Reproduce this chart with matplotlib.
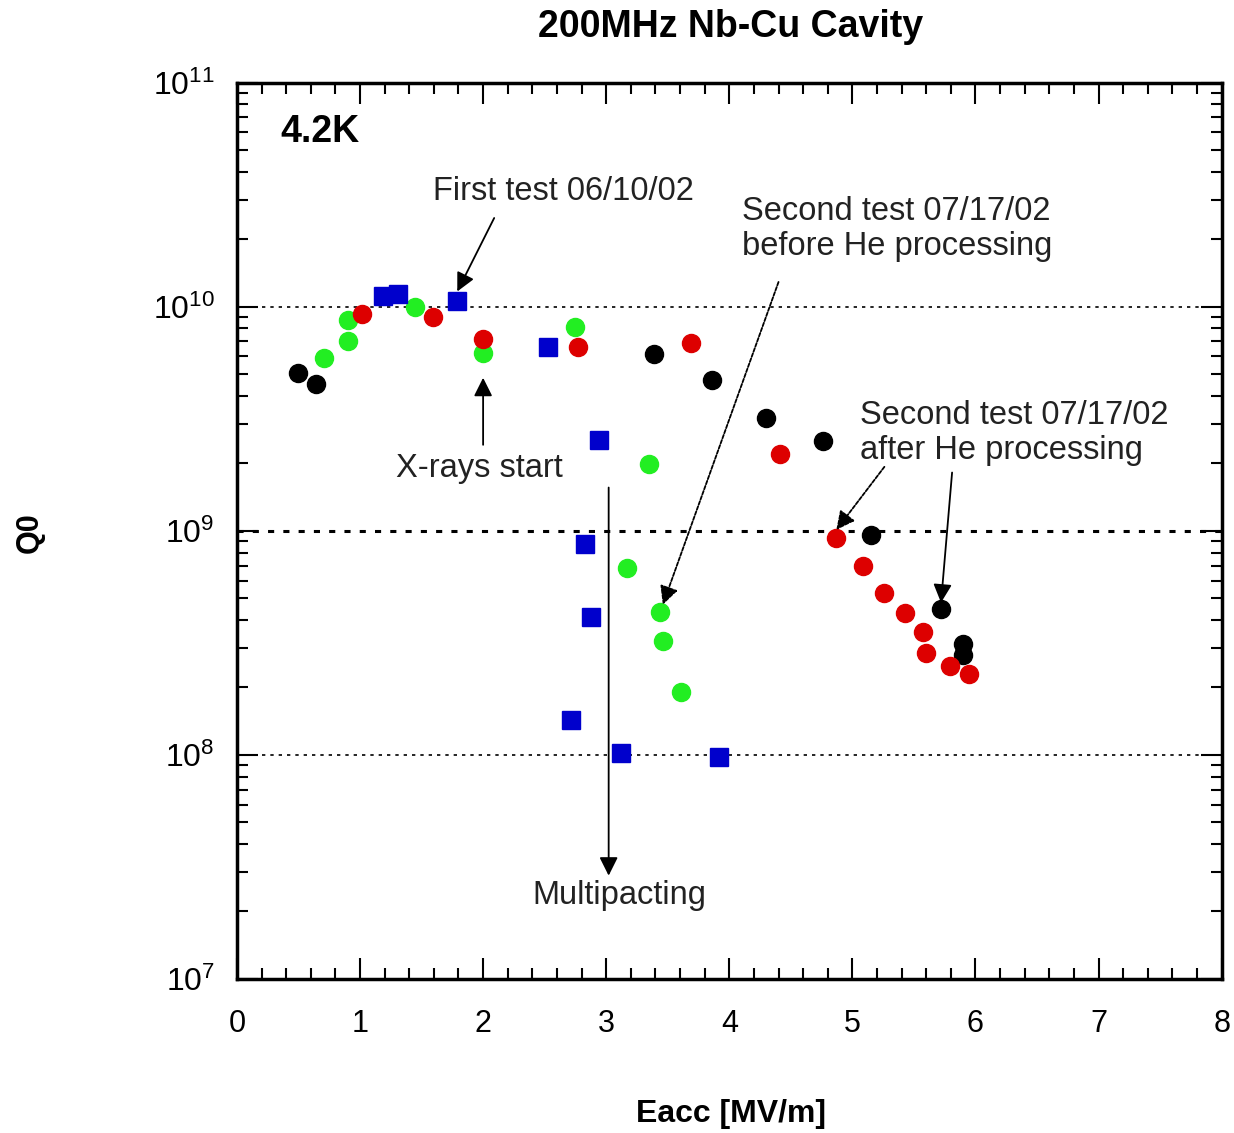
import numpy as np
import matplotlib
matplotlib.use("Agg")
import matplotlib.pyplot as plt
from matplotlib.ticker import MultipleLocator, LogLocator, FixedLocator

plt.rcParams["font.family"] = ["Liberation Sans", "DejaVu Sans"]

# first test 06/10/02 (blue squares)
first_x = [1.19, 1.31, 1.79, 2.53, 2.94, 2.83, 2.88, 2.71, 3.12, 3.92]
first_q = [1.12e10, 1.14e10, 1.06e10, 6.6e9, 2.55e9, 8.75e8, 4.13e8, 1.43e8, 1.02e8, 9.8e7]

# second test before He processing (green)
green_x = [0.71, 0.90, 0.90, 1.45, 2.00, 2.75, 3.35, 3.17, 3.44, 3.46, 3.61]
green_q = [5.9e9, 7.05e9, 8.75e9, 1.0e10, 6.2e9, 8.15e9, 1.99e9, 6.84e8, 4.35e8, 3.23e8, 1.91e8]

# second test after He processing (red)
red_x = [1.02, 1.59, 2.00, 2.77, 3.69, 4.41, 4.87, 5.09, 5.26, 5.43, 5.57, 5.60, 5.79, 5.95]
red_q = [9.3e9, 9.0e9, 7.2e9, 6.6e9, 6.9e9, 2.21e9, 9.3e8, 6.98e8, 5.28e8, 4.3e8,
         3.54e8, 2.85e8, 2.49e8, 2.3e8]

# black points
black_x = [0.50, 0.64, 3.39, 3.86, 4.30, 4.76, 5.15, 5.72, 5.90, 5.90]
black_q = [5.07e9, 4.53e9, 6.17e9, 4.72e9, 3.19e9, 2.52e9, 9.6e8, 4.49e8, 3.13e8, 2.79e8]

fig = plt.figure(figsize=(12.34, 11.33), dpi=100)
ax = fig.add_axes([0.192, 0.136, 0.798, 0.791])

for yl, lw in [(1e10, 1.2), (1e9, 2.2), (1e8, 1.2)]:
    ax.axhline(yl, color="black", lw=lw, ls=(0, (2, 3)), zorder=1)

ax.plot(black_x, black_q, "o", color="black", ms=13, zorder=3)
ax.plot(green_x, green_q, "o", color="#22ee22", ms=13, zorder=3)
ax.plot(red_x, red_q, "o", color="#dd0000", ms=13, zorder=3)
ax.plot(first_x, first_q, "s", color="#0000cc", ms=12.5, zorder=4)

ax.set_yscale("log")
ax.set_xlim(0, 8)
ax.set_ylim(1e7, 1e11)
ax.xaxis.set_major_locator(MultipleLocator(1))
ax.xaxis.set_minor_locator(MultipleLocator(0.2))
ax.yaxis.set_major_locator(FixedLocator([1e7, 1e8, 1e9, 1e10, 1e11]))
ax.yaxis.set_minor_locator(LogLocator(base=10, subs=np.arange(2, 10)))
ax.tick_params(which="both", direction="in", top=True, right=True)
ax.tick_params(which="major", length=15, width=1.5)
ax.tick_params(which="minor", length=8, width=1.5)
ax.tick_params(axis="x", labelsize=22, pad=22)
ax.tick_params(axis="y", labelsize=23, pad=16)
for s in ax.spines.values():
    s.set_linewidth(2.5)

ax.yaxis.set_major_formatter(plt.FuncFormatter(
    lambda v, pos: r"$\mathregular{10^{%d}}$" % round(np.log10(v))))
ax.xaxis.set_major_formatter(plt.FuncFormatter(lambda v, pos: "%d" % round(v)))

fig.text(0.592, 0.976, "200MHz Nb-Cu Cavity", ha="center", va="center",
         fontsize=27, fontweight="bold")
fig.text(0.592, 0.017, "Eacc [MV/m]", ha="center", va="center",
         fontsize=23, fontweight="bold")
fig.text(0.024, 0.53, "Q0", ha="center", va="center", rotation=90,
         fontsize=22, fontweight="bold")

ax.text(0.35, 6.0e10, "4.2K", fontsize=27, fontweight="bold", va="center")

tc = "#222222"
aprops = dict(arrowstyle="-|>", color="black", lw=1.3, mutation_scale=28,
              shrinkA=0, shrinkB=0)
ax.text(1.59, 3.26e10, "First test 06/10/02", fontsize=23.5, ha="left",
        va="center", color=tc)
ax.annotate("", xy=(1.79, 1.17e10), xytext=(2.09, 2.49e10), arrowprops=aprops)

ax.text(1.97, 1.89e9, "X-rays start", fontsize=23.5, ha="center", va="center", color=tc)
ax.annotate("", xy=(2.0, 4.82e9), xytext=(2.0, 2.42e9), arrowprops=aprops)

ax.text(3.11, 2.35e7, "Multipacting", fontsize=23.5, ha="center", va="center", color=tc)
ax.annotate("", xy=(3.02, 2.89e7), xytext=(3.02, 1.56e9), arrowprops=aprops)

ax.text(4.10, 2.22e10, "Second test 07/17/02\nbefore He processing", fontsize=23.5,
        ha="left", va="center", color=tc, linespacing=1.15)
ax.annotate("", xy=(3.46, 4.68e8), xytext=(4.40, 1.29e10),
            arrowprops=dict(aprops, ls=(0, (2, 1))))

ax.text(5.06, 2.74e9, "Second test 07/17/02\nafter He processing", fontsize=23.5,
        ha="left", va="center", color=tc, linespacing=1.15)
ax.annotate("", xy=(4.87, 1.01e9), xytext=(5.26, 1.93e9),
            arrowprops=dict(aprops, ls=(0, (2, 1))))
ax.annotate("", xy=(5.72, 4.78e8), xytext=(5.81, 1.82e9), arrowprops=aprops)

fig.savefig("out.png", dpi=100)
